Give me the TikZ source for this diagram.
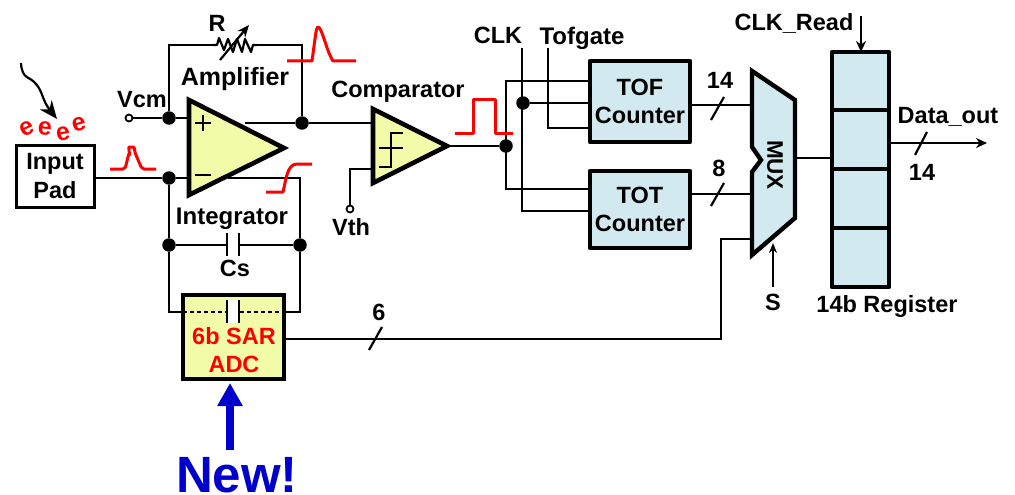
\documentclass[tikz,border=0pt]{standalone}
\usepackage{fontspec}
\setmainfont{Liberation Sans}
\usetikzlibrary{arrows.meta}
\definecolor{ylw}{HTML}{F2FBA8}
\definecolor{blu}{HTML}{D2E9F0}
\definecolor{newblue}{HTML}{0000CC}
\tikzset{
  every node/.style={outer sep=0pt},
  wire/.style={line width=2.2pt,line join=miter},
  sig/.style={line width=3pt,red,line join=round},
  dotn/.style={circle,fill=black,inner sep=0pt,minimum size=13.5pt},
  pin/.style={circle,draw=black,fill=white,line width=1.8pt,inner sep=0pt,minimum size=7pt},
  lbl/.style={font=\fontsize{23.5}{26}\selectfont\bfseries,inner sep=0pt,align=center},
  elec/.style={red,inner sep=0pt,font=\fontsize{25}{25}\selectfont\bfseries},
  thick box/.style={line width=4.4pt,line join=round},
  slash/.style={line width=2.2pt},
  counter/.style={draw,thick box,fill=blu,inner sep=0pt,anchor=north west,align=center,font=\fontsize{23.5}{29}\selectfont\bfseries},
}
\begin{document}
\begin{tikzpicture}[x=1pt,y=-1pt]
\useasboundingbox (0,0) rectangle (1015,495);
% junctions and pins
\node[pin] (vcm) at (129,118) {};
\node[pin] (vth) at (350,209) {};
\node[dotn] (jp) at (169,118) {};
\node[dotn] (jm) at (169,178) {};
\node[dotn] (jo) at (302,123) {};
\node[dotn] (jil) at (169,245) {};
\node[dotn] (jir) at (300,245) {};
\node[dotn] (jc) at (506,146) {};
\node[dotn] (jclk) at (523,103) {};
% boxes
\coordinate (ampP) at (188,118); \coordinate (ampM) at (188,178);
\coordinate (ampOut) at (245,123); \coordinate (ampFb) at (228,178);
\coordinate (cmpIn) at (372,123); \coordinate (cmpTh) at (372,169); \coordinate (cmpOut) at (447,146);
\coordinate (clkTop) at (522,48); \coordinate (tofTop) at (548,48);
\coordinate (rL) at (213,45); \coordinate (rR) at (257,45);
\coordinate (capA) at (227,245); \coordinate (capB) at (239,245);
\coordinate (muxA) at (751,105); \coordinate (muxB) at (751,194); \coordinate (muxC) at (751,239);
\coordinate (muxOut) at (796,158);
% wires behind the shapes
\draw[wire] (vcm) -- (jp) -- (ampP);
\draw[wire] (jp) |- (rL);
\draw[wire] (rR) -| (jo);
\draw[wire] (ampOut) -- (jo) -- (cmpIn);
\draw[wire] (jm) -- (ampM);
\draw[wire] (ampFb) -| (jir);
\draw[wire] (jm) -- (jil);
\draw[wire] (jil) -- (capA);
\draw[wire] (capB) -- (jir);
\draw[wire] (jil) -- (169,312) -- (183,312);
\draw[wire] (jir) -- (300,312) -- (284,312);
\draw[wire] (cmpTh) -| (vth);
\draw[wire] (cmpOut) -- (jc);
\draw[wire] (clkTop) -- (522,211) -- (590,211);
\draw[wire] (tofTop) -- (548,128) -- (590,128);
\draw[wire] (jclk) -- (590,103);
\draw[wire] (590,81) -- (506,81) -- (506,189) -- (590,189);
% input pad
\node[draw,line width=3pt,fill=white,minimum width=78pt,minimum height=62pt,inner sep=0pt,align=center,font=\fontsize{23.5}{29}\selectfont\bfseries] (pad) at (55,176) {Input\\Pad};
\draw[wire] (pad.east |- jm) -- (jm);
% amplifier
\draw[line width=4.6pt,fill=ylw,line join=miter] (189,100) -- (284,148) -- (189,195) -- cycle;
\draw[line width=2.2pt] (195,123) -- (211,123) (203,115) -- (203,131);
\draw[line width=2.6pt] (195,175) -- (211,175);
% comparator
\draw[line width=4.6pt,fill=ylw,line join=miter] (373,109) -- (447,146) -- (373,183) -- cycle;
\draw[line width=2.2pt] (379,167) -- (391,167) -- (391,133) -- (403,133) (379,148) -- (403,148);
% resistor
\draw[wire,line join=round] (rL) -- (217,45) -- (219,38) -- (224,50) -- (228,39) -- (233,52) -- (237,39) -- (242,52) -- (245,39) -- (251,52) -- (253,45) -- (rR);
\draw[wire,-{Stealth[length=12pt,width=10pt]}] (220,60) -- (249,25);
% capacitor
\draw[line width=2.4pt] (capA) ++(0,-12) -- ++(0,23);
\draw[line width=2.4pt] (capB) ++(0,-12) -- ++(0,23);
% ADC
\node[draw,line width=4.6pt,fill=ylw,anchor=north west,minimum width=101pt,minimum height=84pt,inner sep=0pt] (adc) at (183,295) {};
\fill[white] (228,300) rectangle (238,323);
\draw[line width=2pt,dash pattern=on 4pt off 3pt] (adc.west |- 0,312) -- (226,312) (240,312) -- (adc.east |- 0,312);
\draw[line width=2.4pt] (227,300) -- (227,323) (239,300) -- (239,323);
\node[lbl,red,font=\fontsize{23.5}{27}\selectfont\bfseries] (adct) at (234,350) {6b SAR\\[1pt]ADC};
\draw[wire] (adc.east |- 0,339) -- (721,339) -- (721,239) -- (muxC);
\draw[slash] (369,350) -- (382,327);
\node[lbl] (n6) at (379,312) {6};
% New
\draw[newblue,line width=8pt,-{Triangle[length=23pt,width=24pt]}] (230,450) -- (230,383);
\node[inner sep=0pt,anchor=base,text=newblue,font=\fontsize{51}{51}\selectfont\bfseries] (new) at (237,492) {New!};
% counters
\node[counter,minimum width=100pt,minimum height=81pt] (tof) at (590,61) {TOF\\[-1pt]Counter};
\node[counter,minimum width=100pt,minimum height=77pt] (tot) at (590,171) {TOT\\[-1pt]Counter};
\draw[wire] (tof.east |- muxA) -- (muxA);
\draw[wire] (tot.east |- muxB) -- (muxB);
\draw[slash] (711,120) -- (724,97);
\draw[slash] (711,206) -- (724,183);
\node[lbl] (n14a) at (720,80) {14};
\node[lbl] (n8) at (719,168) {8};
% MUX
\draw[thick box,fill=blu,line join=miter] (752,71) -- (795,100) -- (795,218) -- (752,255) -- (752,172) -- (761,160) -- (752,147) -- cycle;
\node[lbl,rotate=-90,font=\fontsize{22.5}{24}\selectfont\bfseries] (mux) at (775,165) {MUX};
\coordinate (sTop) at (773,243);
\node[lbl] (s) at (773,302) {S};
\draw[wire,-{Stealth[length=10pt,width=8pt]}] (773,287) -- (sTop);
% register
\node[draw,thick box,fill=blu,anchor=north west,minimum width=57pt,minimum height=235pt,inner sep=0pt] (reg) at (832,52) {};
\draw[thick box] (832,110) -- (889,110) (832,169) -- (889,169) (832,228) -- (889,228);
\draw[wire] (muxOut) -- (reg.west |- muxOut);
\coordinate (dout) at (987,143);
\draw[line width=2.8pt,-{Stealth[length=11pt,width=10pt]}] (reg.east |- dout) -- (dout);
\draw[slash] (915,155) -- (927,132);
\coordinate (clkr) at (861,16);
\draw[line width=2.8pt,-{Stealth[length=11pt,width=10pt]}] (clkr) -- (reg.north -| clkr);
% pulses
\draw[sig,rounded corners=2pt] (110,169) -- (125,169) -- (129,153) to[out=-75,in=180] (131,147) to[out=0,in=110] (136,155) -- (142,169) -- (156,169);
\draw[sig] (287,61) -- (312,61) .. controls (315,40) and (316,27) .. (318,27) .. controls (322,27) and (326,50) .. (333,61) -- (356,61);
\draw[sig] (266,192) -- (283,192) .. controls (286,180) and (287,164) .. (297,164) -- (312,164);
\draw[sig] (455,133) -- (473,133) -- (473,99) -- (495,99) -- (495,133) -- (513,133);
% electrons
\draw[line width=2.2pt,-{Stealth[length=18pt,width=15pt]}] (21,63) .. controls (22,80) and (30,76) .. (36,84) .. controls (43,92) and (42,100) .. (57,119);
\node[elec,rotate=25] (e1) at (27,129) {e};
\node[elec,rotate=-5] (e2) at (45,129) {e};
\node[elec,rotate=10] (e3) at (63,134) {e};
\node[elec,rotate=15] (e4) at (79,124) {e};
% labels
\node[lbl] (tr) at (217,23) {R};
\node[lbl,font=\fontsize{25}{27}\selectfont\bfseries] (tamp) at (235,79) {Amplifier};
\node[lbl] (tvcm) at (142,100) {Vcm};
\node[lbl,font=\fontsize{24}{26}\selectfont\bfseries] (tint) at (232,219) {Integrator};
\node[lbl] (tcs) at (235,268) {Cs};
\node[lbl] (tcmp) at (398,92) {Comparator};
\node[lbl] (tvth) at (351,227) {Vth};
\node[lbl] (tclk) at (498,35) {CLK};
\node[lbl,font=\fontsize{24}{26}\selectfont\bfseries] (ttof) at (582,38) {Tofgate};
\node[lbl] (tread) at (794,23) {CLK\_Read};
\node[lbl] (tdo) at (948,117) {Data\_out};
\node[lbl] (n14b) at (922,172) {14};
\node[lbl] (treg) at (887,306) {14b Register};
\end{tikzpicture}
\end{document}
